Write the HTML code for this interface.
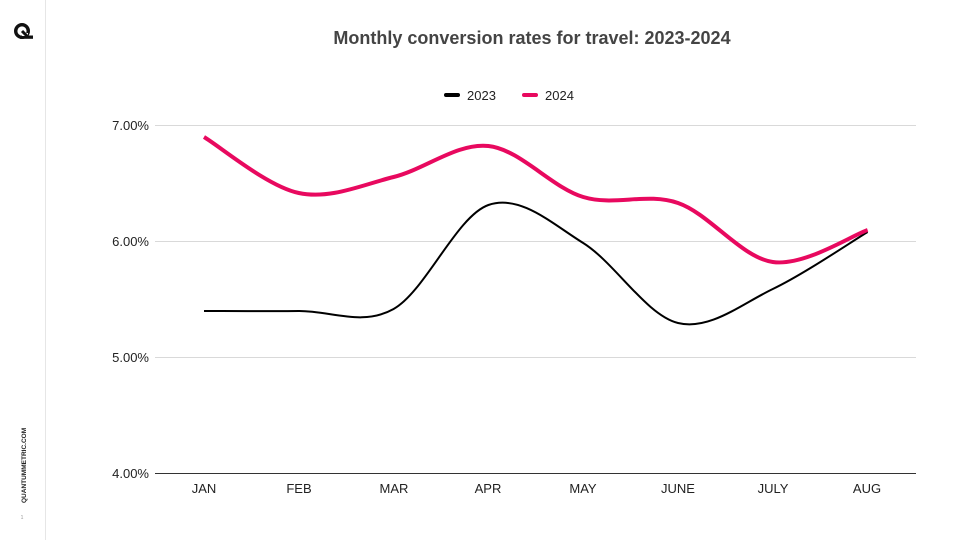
<!DOCTYPE html>
<html><head><meta charset="utf-8"><style>
body{margin:0;width:960px;height:540px;background:#fff;overflow:hidden;font-family:"Liberation Sans",sans-serif;}
</style></head><body>
<svg width="960" height="540" xmlns="http://www.w3.org/2000/svg" style="position:absolute;left:0;top:0">
<line x1="45.5" y1="0" x2="45.5" y2="540" stroke="#e6e6e6" stroke-width="1"/>
<circle cx="22" cy="31" r="6.3" fill="none" stroke="#111" stroke-width="3.4"/>
<rect x="20" y="35.5" width="13" height="3.3" fill="#111"/>
<rect x="22" y="33" width="6" height="3" fill="#fff"/>
<path d="M22,31 L28,37" stroke="#111" stroke-width="3"/>
<text transform="translate(26,503) rotate(-90)" font-size="6.5" font-weight="bold" fill="#222">QUANTUMMETRIC.COM</text>
<text x="22" y="519" font-size="5" fill="#999" text-anchor="middle">1</text>
<text x="532" y="44" font-size="18" font-weight="bold" fill="#444" text-anchor="middle">Monthly conversion rates for travel: 2023-2024</text>
<rect x="444" y="93" width="16" height="4" rx="2" fill="#000"/>
<text x="467" y="100" font-size="13" fill="#222">2023</text>
<rect x="522" y="93" width="16" height="4" rx="2" fill="#e8095f"/>
<text x="545" y="100" font-size="13" fill="#222">2024</text>
<g stroke="#d9d9d9" stroke-width="1">
<line x1="155" y1="125.5" x2="916" y2="125.5"/>
<line x1="155" y1="241.5" x2="916" y2="241.5"/>
<line x1="155" y1="357.5" x2="916" y2="357.5"/>
</g>
<line x1="155" y1="473.5" x2="916" y2="473.5" stroke="#333" stroke-width="1"/>
<g font-size="13" fill="#222" text-anchor="end">
<text x="149" y="130">7.00%</text>
<text x="149" y="246">6.00%</text>
<text x="149" y="362">5.00%</text>
<text x="149" y="478">4.00%</text>
</g>
<g font-size="13" fill="#222" text-anchor="middle">
<text x="204" y="493">JAN</text><text x="299" y="493">FEB</text><text x="394" y="493">MAR</text><text x="488" y="493">APR</text>
<text x="583" y="493">MAY</text><text x="678" y="493">JUNE</text><text x="773" y="493">JULY</text><text x="867" y="493">AUG</text>
</g>
<path id="p23" fill="none" stroke="#000" stroke-width="2"/>
<path id="p24" fill="none" stroke="#e8095f" stroke-width="4"/>
</svg>
<script>
var xs=[204,298.8,393.6,488.4,583.2,678,772.8,867.6];
function mk(ys){var p=xs.map(function(x,i){return [x,ys[i]]});var d="M"+p[0][0]+","+p[0][1];
for(var i=0;i<p.length-1;i++){var a=p[i-1]||p[i],b=p[i],c=p[i+1],e=p[i+2]||c;
d+=" C"+(b[0]+(c[0]-a[0])/6)+","+(b[1]+(c[1]-a[1])/6)+" "+(c[0]-(e[0]-b[0])/6)+","+(c[1]-(e[1]-b[1])/6)+" "+c[0]+","+c[1];}return d;}
document.getElementById("p23").setAttribute("d",mk([311,311,309,205,243,323,289,232]));
document.getElementById("p24").setAttribute("d",mk([137,193,177,146,197,203,262,230]));
</script>
</body></html>
